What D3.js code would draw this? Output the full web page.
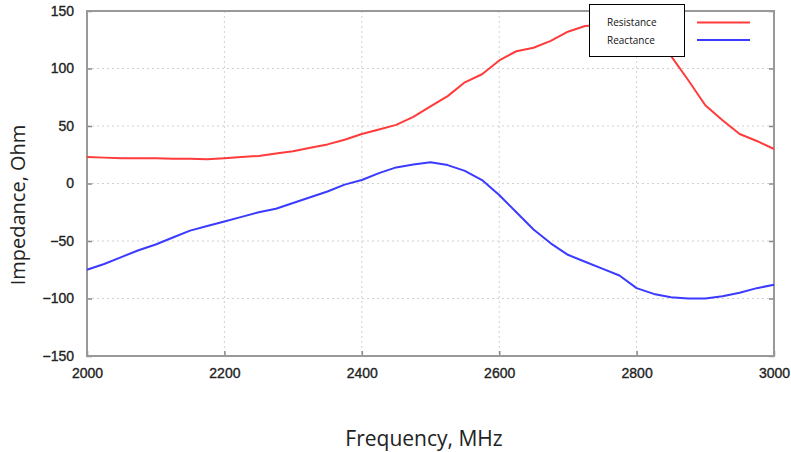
<!DOCTYPE html>
<html>
<head>
<meta charset="utf-8">
<script src="https://cdn.jsdelivr.net/npm/d3@7"></script>
<style>
  body { margin: 0; background: #fff; }
</style>
</head>
<body>
<svg id="chart"></svg>
<script>
// Data
const freq = [2000, 2025, 2050, 2075, 2100, 2125, 2150, 2175, 2200, 2225, 2250, 2275, 2300, 2325, 2350, 2375,
              2400, 2425, 2450, 2475, 2500, 2525, 2550, 2575, 2600, 2625, 2650, 2675, 2700, 2725, 2750, 2775,
              2800, 2825, 2850, 2875, 2900, 2925, 2950, 2975, 3000];
const resistance = [23, 22.5, 22, 22, 22, 21.5, 21.5, 21, 22, 23, 24, 26, 28, 31, 34, 38,
                    43, 47, 51, 58, 67, 76, 88, 95, 107, 115, 118, 124, 132, 137, 138, 139,
                    134, 124, 111, 90, 68, 55, 43, 37, 30];
const reactance = [-75, -70, -64, -58, -53, -47, -41, -37, -33, -29, -25, -22, -17, -12, -7, -1,
                   3, 9, 14, 16.5, 18.5, 16, 11, 3, -10, -25, -40, -52, -62, -68, -74, -80,
                   -91, -96, -99, -100, -100, -98, -95, -91, -88];
const xTicks = [2000, 2200, 2400, 2600, 2800, 3000];
const yTicks = [-150, -100, -50, 0, 50, 100, 150];
const seriesNames = ["Resistance", "Reactance"];
const seriesColors = ["#ff3b3b", "#3b3bff"];

const width = 791, height = 452;
const margin = {left: 87, right: 17, top: 11, bottom: 96};

const svg = d3.select("#chart")
    .attr("width", width)
    .attr("height", height);

let x = d3.scaleLinear().domain([2000, 3000]).range([margin.left, width - margin.right]);
let y = d3.scaleLinear().domain([-150, 150]).range([height - margin.bottom, margin.top]);

// Dotted grid
svg.append("g")
    .selectAll("line")
    .data(xTicks.slice(1, -1))
    .join("line")
        .attr("x1", d => x(d)).attr("x2", d => x(d))
        .attr("y1", y(150)).attr("y2", y(-150))
        .style("stroke", "#d0d0d0")
        .style("stroke-dasharray", "2,3");
svg.append("g")
    .selectAll("line")
    .data(yTicks.slice(1, -1))
    .join("line")
        .attr("x1", x(2000)).attr("x2", x(3000))
        .attr("y1", d => y(d)).attr("y2", d => y(d))
        .style("stroke", "#d0d0d0")
        .style("stroke-dasharray", "2,3");

// Axes with inward ticks
function styleAxis (g) {
    g.select(".domain").remove();
    g.selectAll(".tick line").style("stroke", "#888").style("stroke-width", "1.5px");
    g.selectAll(".tick text")
        .style("font-family", "'Liberation Sans', Arial, sans-serif")
        .style("font-size", "14px")
        .style("fill", "#222")
        .style("stroke", "#222")
        .style("stroke-width", "0.35px");
}
svg.append("g")
    .attr("transform", "translate(0," + y(-150) + ")")
    .call(d3.axisBottom(x).tickValues(xTicks).tickFormat(d3.format("d")).tickSizeInner(-5).tickPadding(12))
    .call(styleAxis);
svg.append("g")
    .attr("transform", "translate(" + x(2000) + ",0)")
    .call(d3.axisLeft(y).tickValues(yTicks).tickSizeInner(-5).tickPadding(13))
    .call(styleAxis);
svg.append("g")
    .attr("transform", "translate(" + x(3000) + ",0)")
    .call(d3.axisRight(y).tickValues(yTicks).tickSizeInner(-5).tickFormat(""))
    .call(styleAxis);

// Plot frame
svg.append("rect")
    .attr("x", x(2000)).attr("y", y(150))
    .attr("width", x(3000) - x(2000)).attr("height", y(-150) - y(150))
    .style("fill", "none")
    .style("stroke", "#999")
    .style("stroke-width", "2px");

// Series lines
const line = d3.line().x((d, i) => x(freq[i])).y(d => y(d));
[resistance, reactance].forEach((vals, k) => {
    svg.append("path")
        .datum(vals)
        .attr("d", line)
        .style("fill", "none")
        .style("stroke", seriesColors[k])
        .style("stroke-width", "2px")
        .style("stroke-linejoin", "round");
});

// Legend: white text box, lines to its right
svg.append("rect")
    .attr("x", 589.5).attr("y", 4.5)
    .attr("width", 95).attr("height", 52)
    .style("fill", "#fff")
    .style("stroke", "#000")
    .style("stroke-width", "1px");
svg.selectAll(".legText")
    .data(seriesNames)
    .join("text")
        .attr("class", "legText")
        .attr("x", 607)
        .attr("y", (d, i) => 26 + i * 18)
        .text(d => d)
        .style("font-family", "'Open Sans', sans-serif")
        .style("font-size", "10px")
        .style("fill", "#111");
svg.selectAll(".legLine")
    .data(seriesColors)
    .join("line")
        .attr("class", "legLine")
        .attr("x1", 697).attr("x2", 750)
        .attr("y1", (d, i) => 22.5 + i * 17.5)
        .attr("y2", (d, i) => 22.5 + i * 17.5)
        .style("stroke", d => d)
        .style("stroke-width", "2px");

// Axis titles
svg.append("text")
    .attr("x", 424).attr("y", 446)
    .attr("text-anchor", "middle")
    .text("Frequency, MHz")
    .style("font-family", "'Open Sans', sans-serif")
    .style("font-size", "21px")
    .style("fill", "#222");
svg.append("text")
    .attr("transform", "translate(25," + 205 + ") rotate(-90)")
    .attr("text-anchor", "middle")
    .text("Impedance, Ohm")
    .style("font-family", "'Open Sans', sans-serif")
    .style("font-size", "20px")
    .style("fill", "#222");
</script>
</body>
</html>
